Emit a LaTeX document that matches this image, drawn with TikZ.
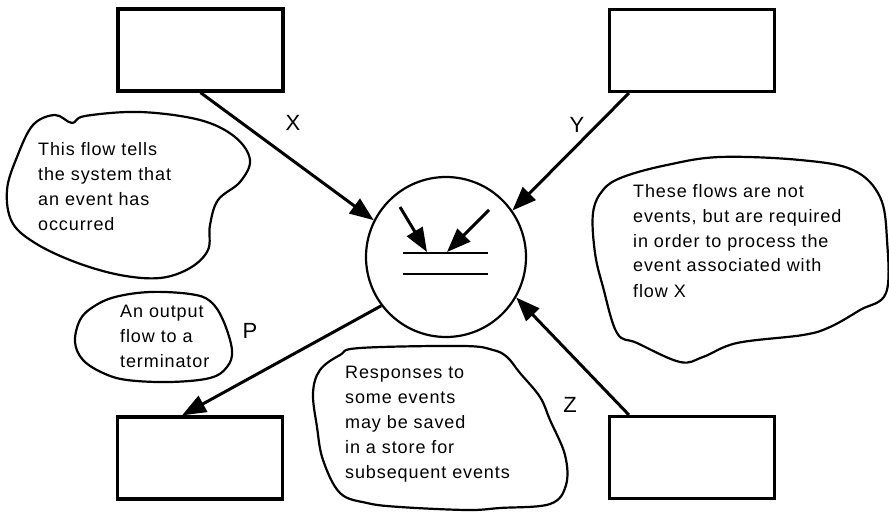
\documentclass[tikz,border=0pt]{standalone}
\usepackage{fontspec}
\setmainfont{Liberation Sans}
\newfontfamily\notefont[LetterSpace=5]{Liberation Sans}
\usetikzlibrary{arrows.meta}

\tikzset{
  term/.style={draw, line width=3.2pt, minimum width=165pt, minimum height=82pt, inner sep=0pt},
  flow/.style={line width=3pt, -{Triangle[length=24pt,width=18pt]}},
  cloudline/.style={line width=2.2pt, line join=round},
  note/.style={align=left, inner sep=0pt, anchor=base west, font=\notefont\fontsize{18}{25}\selectfont},
  flowlabel/.style={font=\fontsize{22}{26}\selectfont, inner sep=0pt}
}

\begin{document}
\begin{tikzpicture}[x=1pt,y=-1pt]
  \useasboundingbox (0,0) rectangle (889,513);

  % terminators
  \node[term] (tl) at (200.5,50) {};
  \node[term] (tr) at (692,50.5) {};
  \node[term] (bl) at (200,458) {};
  \node[term] (br) at (692,457.5) {};

  % the process
  \node[draw, circle, line width=2.2pt, minimum size=160pt, inner sep=0pt] (proc) at (446,257) {};
  \begin{scope}[shift={(proc.center)}]
    \draw[line width=2.4pt] (-43,-4) -- (42,-4) (-43,17) -- (42,17);
    \draw[flow] (-46,-50) -- (-19,-5);
    \draw[flow] (43,-47) -- (1,-5);
  \end{scope}

  % flows
  \draw[flow] (tl.south) -- (proc.153);
  \draw[flow] ([xshift=21pt]tr.south west) -- (proc.35);
  \draw[flow] (proc.217) -- ([xshift=-18pt]bl.north);
  \draw[flow] ([xshift=21pt]br.north west) -- (proc.330);

  \node[flowlabel] (lx) at (293,123) {X};
  \node[flowlabel] (ly) at (577,125) {Y};
  \node[flowlabel] (lp) at (250,331) {P};
  \node[flowlabel] (lz) at (570,405) {Z};

  % clouds
  \draw[cloudline] plot[smooth cycle, tension=0.6] coordinates {
    (17,157) (33,125) (55,115) (72,123) (85,116) (140,112) (200,120) (235,137)
    (250,160) (240,182) (218,200) (210,225) (208,250) (190,268) (160,278)
    (120,275) (75,262) (35,243) (12,222) (7,190)};
  \draw[cloudline] plot[smooth cycle, tension=0.6] coordinates {
    (593,213) (603,190) (623,177) (667,165) (720,157) (800,160) (853,170)
    (880,197) (887,240) (886,293) (860,310) (830,327) (803,335) (737,343)
    (703,357) (680,362) (637,343) (617,333) (603,287) (595,253)};
  \draw[cloudline] plot[smooth cycle, tension=0.6] coordinates {
    (80,320) (93,307) (115,297) (150,292) (190,294) (210,301) (223,320)
    (232,350) (227,367) (210,378) (170,382) (127,380) (103,373) (83,360) (75,342)};
  \draw[cloudline] plot[smooth cycle, tension=0.6] coordinates {
    (320,370) (340,355) (360,348) (463,346) (493,350) (507,357) (520,373)
    (540,397) (550,420) (565,455) (566,485) (550,504) (500,508) (467,510)
    (400,507) (367,503) (340,493) (323,460) (317,427) (313,393)};

  % notes (base = last line)
  \node[note] (n1) at (38,231) {This flow tells\\the system that\\an event has\\occurred};
  \node[note] (n2) at (633,297) {These flows are not\\events, but are required\\in order to process the\\event associated with\\flow X};
  \node[note] (n3) at (120,367) {An output\\flow to a\\terminator};
  \node[note] (n4) at (345,478) {Responses to\\some events\\may be saved\\in a store for\\subsequent events};
\end{tikzpicture}
\end{document}
